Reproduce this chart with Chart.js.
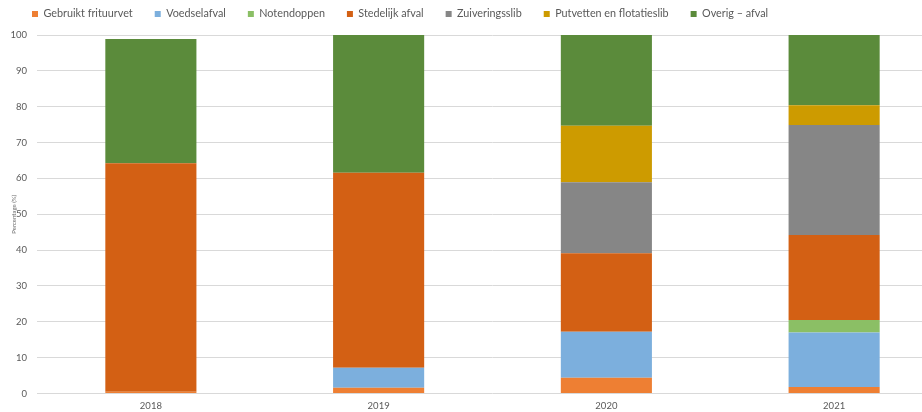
<!DOCTYPE html>
<html lang="nl">
<head>
<meta charset="utf-8">
<title>Samenstelling afval per jaar</title>
<script src="https://cdn.jsdelivr.net/npm/chart.js@4/dist/chart.umd.min.js"></script>
<style>
  html, body { margin: 0; padding: 0; background: #ffffff; overflow: hidden; }
  #wrap { width: 922px; height: 412px; overflow: hidden; }
  canvas { display: block; }
</style>
</head>
<body>
<div id="wrap"><canvas id="chart" width="948" height="412"></canvas></div>
<script>
// Jaren op de x-as
const years = ['2018', '2019', '2020', '2021'];

// Aandeel per afvalstroom (%), van onder naar boven gestapeld
const gebruiktFrituurvet = [0.5, 1.6, 4.4, 1.8];
const voedselafval       = [0, 5.6, 12.8, 15.2];
const notendoppen        = [0, 0, 0, 3.5];
const stedelijkAfval     = [63.7, 54.4, 21.9, 23.7];
const zuiveringsslib     = [0, 0, 19.8, 30.7];
const putvetten          = [0, 0, 15.8, 5.5];
const overigAfval        = [34.7, 38.4, 25.3, 19.6];

const yTicks = [0, 10, 20, 30, 40, 50, 60, 70, 80, 90, 100];

const series = [
  { label: 'Gebruikt frituurvet',        data: gebruiktFrituurvet, color: '#ee7f33' },
  { label: 'Voedselafval',               data: voedselafval,       color: '#7cafdd' },
  { label: 'Notendoppen',                data: notendoppen,        color: '#8bbf65' },
  { label: 'Stedelijk afval',            data: stedelijkAfval,     color: '#d36014' },
  { label: 'Zuiveringsslib',             data: zuiveringsslib,     color: '#868686' },
  { label: 'Putvetten en flotatieslib',  data: putvetten,          color: '#cd9b00' },
  { label: 'Overig \u2013 afval',        data: overigAfval,        color: '#5b8b3b' }
];

const textColor = '#595959';
const gridColor = '#d9d9d9';

// The legend keeps its wide item spacing but sits closer to the top edge.
const liftLegend = {
  id: 'liftLegend',
  afterLayout(chart) {
    if (chart.legend) {
      chart.legend.top -= 13.4;
      chart.legend.bottom -= 13.4;
    }
  }
};

new Chart(document.getElementById('chart'), {
  type: 'bar',
  data: {
    labels: years,
    datasets: series.map(s => ({
      label: s.label,
      data: s.data,
      backgroundColor: s.color,
      borderWidth: 0,
      barPercentage: 1,
      categoryPercentage: 0.4
    }))
  },
  plugins: [liftLegend],
  options: {
    responsive: false,
    animation: false,
    layout: { padding: { top: 0, left: 10, right: 0, bottom: 0 } },
    plugins: {
      tooltip: { enabled: false },
      legend: {
        position: 'top',
        align: 'start',
        maxHeight: 35,
        labels: {
          color: textColor,
          font: { family: 'Lato', size: 10.8 },
          boxWidth: 6,
          boxHeight: 6,
          padding: 22
        }
      }
    },
    scales: {
      x: {
        stacked: true,
        afterFit: scale => { scale.height = 18.5; },
        grid: { display: false, drawTicks: false },
        border: { display: false },
        ticks: {
          color: textColor,
          font: { family: 'Lato', size: 9.5 },
          padding: 7,
          maxRotation: 0
        }
      },
      y: {
        stacked: true,
        min: 0,
        max: 100,
        afterBuildTicks: scale => { scale.ticks = yTicks.map(v => ({ value: v })); },
        afterFit: scale => { scale.width = 27; },
        grid: { color: gridColor, lineWidth: 1, drawTicks: false },
        border: { display: false },
        title: {
          display: true,
          text: 'Percentage (%)',
          color: '#6a6a6a',
          font: { family: 'Lato', size: 6 },
          padding: 0
        },
        ticks: {
          color: textColor,
          font: { family: 'Lato', size: 9.5 },
          padding: 10
        }
      }
    }
  }
});
</script>
</body>
</html>
